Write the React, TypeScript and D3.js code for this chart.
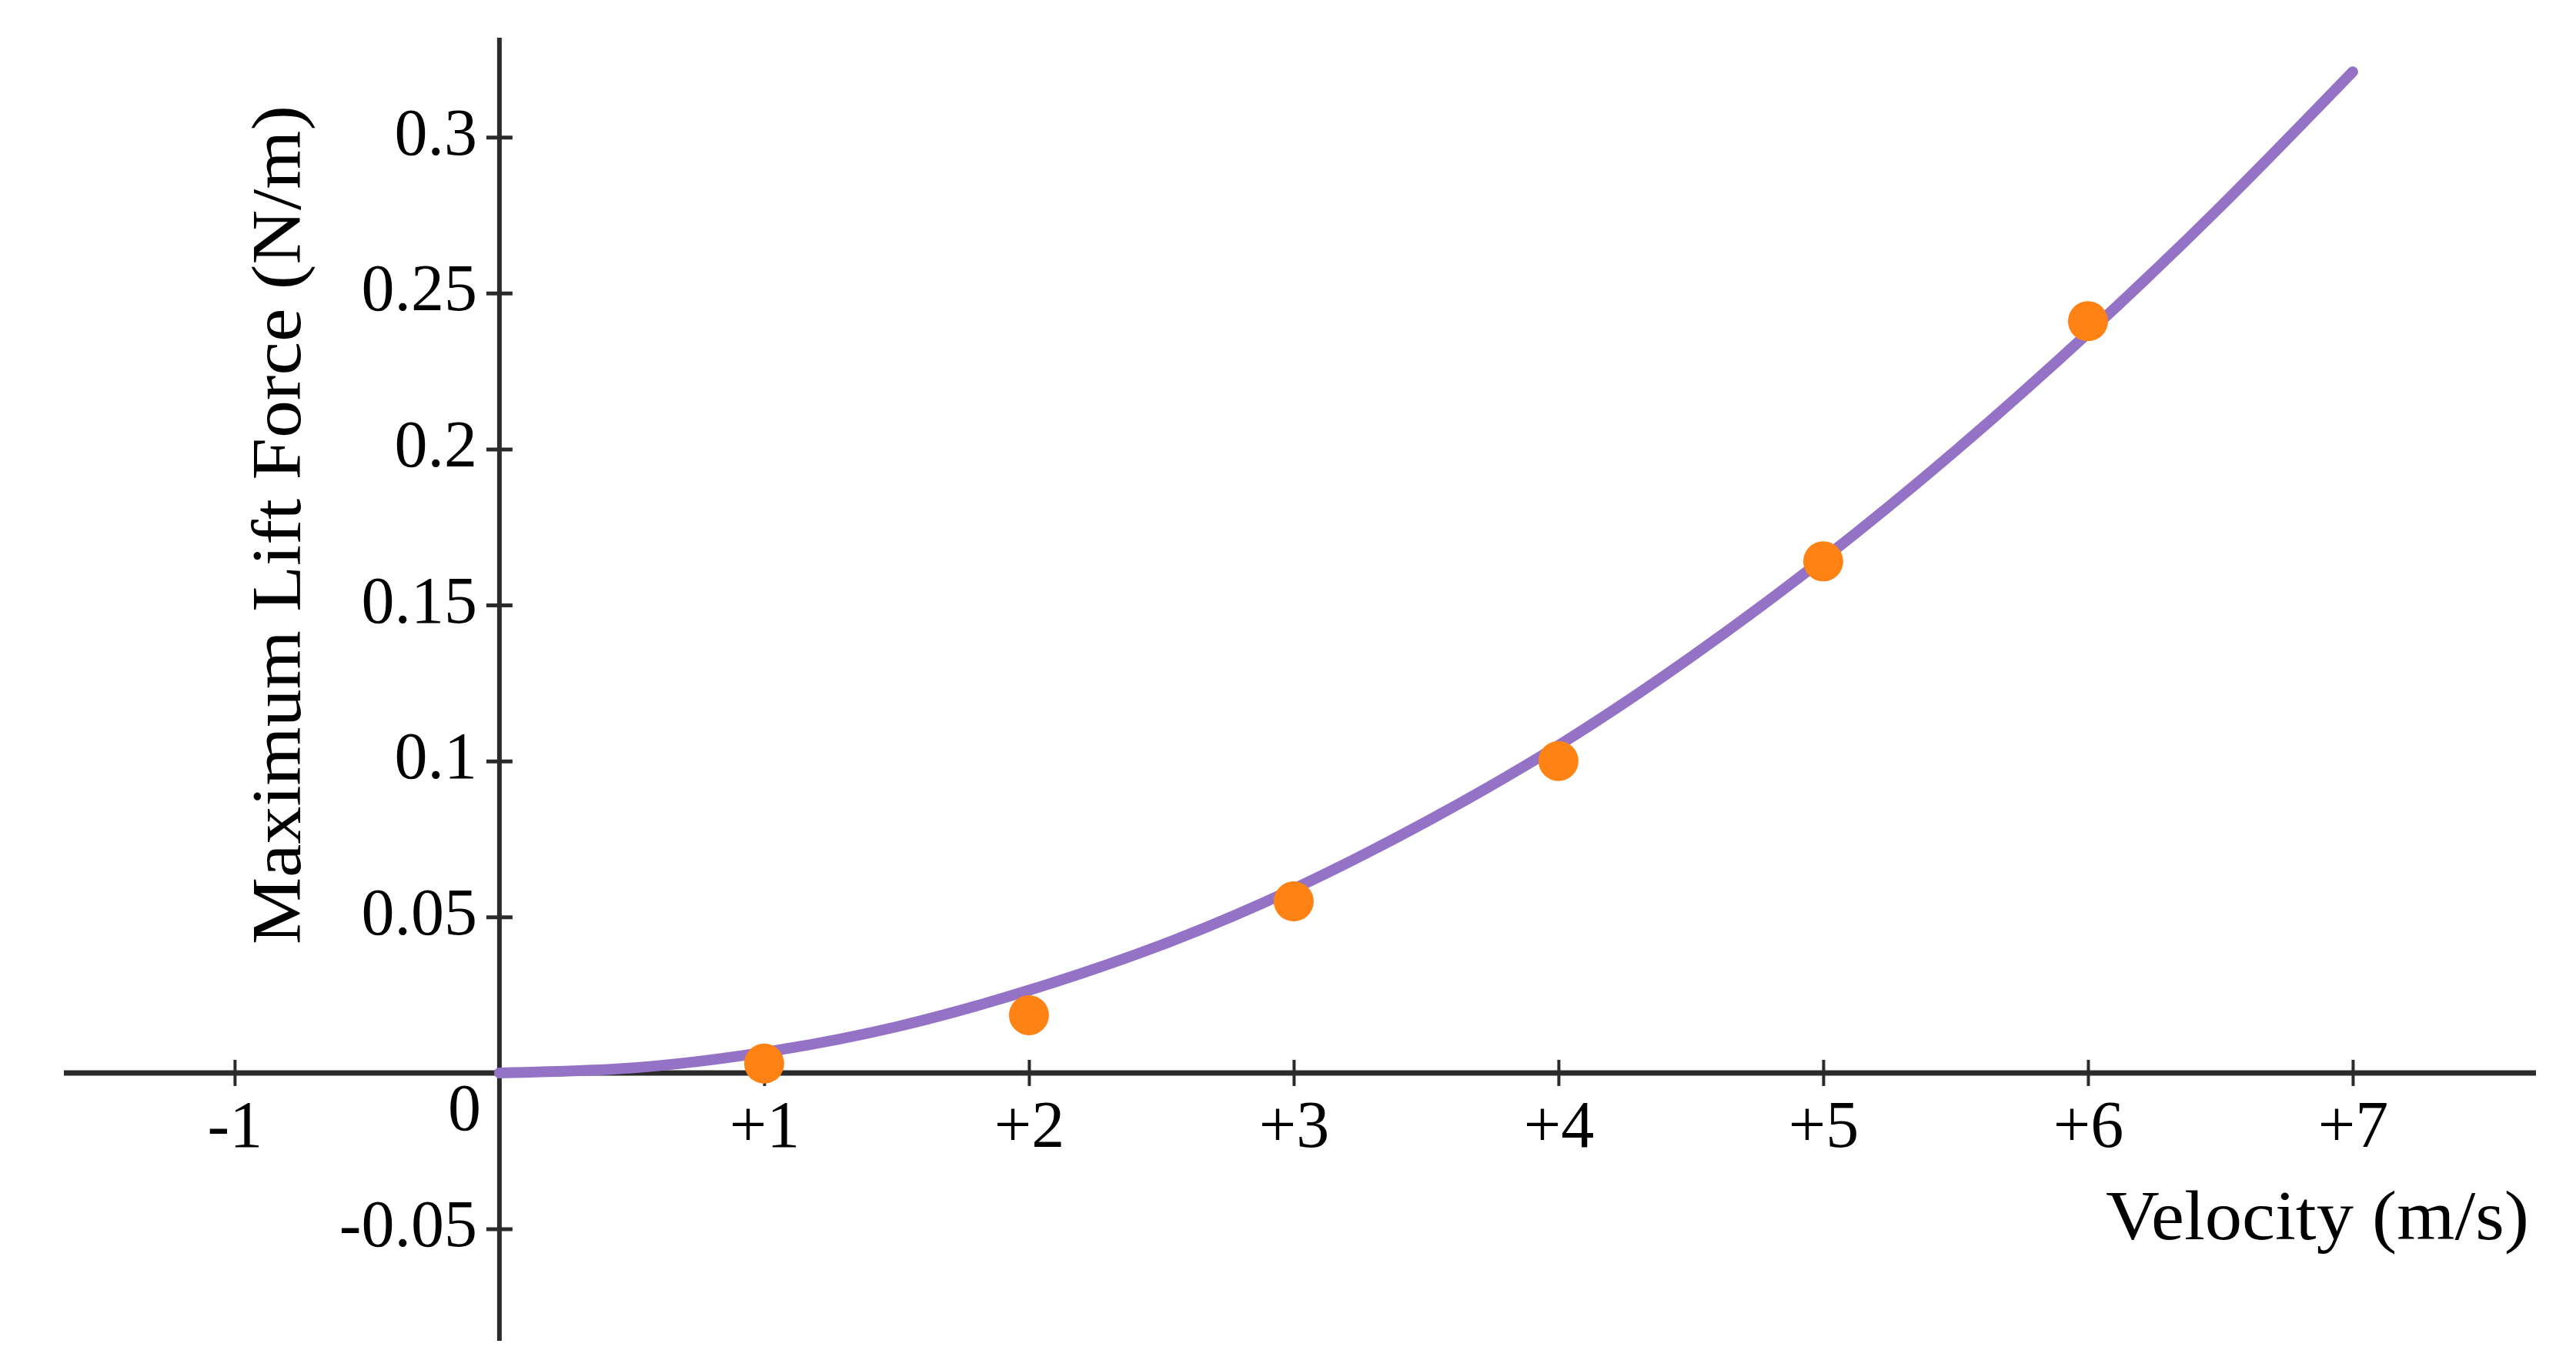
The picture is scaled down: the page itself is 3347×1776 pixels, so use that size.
import { useEffect, useRef } from "react";
import * as d3 from "d3";

// tick values and labels
const velocityTicks = [-1, 1, 2, 3, 4, 5, 6, 7];
const forceTicks = [-0.05, 0.05, 0.1, 0.15, 0.2, 0.25, 0.3];
const forceTickLabels = ["-0.05", "0.05", "0.1", "0.15", "0.2", "0.25", "0.3"];

// measured points (orange)
const measuredVelocity = [1, 2, 3, 4, 5, 6];
const measuredForce = [0.003, 0.0185, 0.055, 0.1, 0.164, 0.241];

// fitted curve (purple)
const fitVelocity = [0, 0.5, 1, 1.5, 2, 2.5, 3, 3.5, 4, 4.5, 5, 5.5, 6, 6.5, 7];
const fitForce = [0, 0.0016, 0.0066, 0.0148, 0.0265, 0.041, 0.059, 0.0805, 0.105, 0.1333, 0.1648, 0.1995, 0.2372, 0.2777, 0.321];

const W = 3347;
const H = 1776;
const FONT = "'Liberation Serif', 'Times New Roman', serif";

const App = () => {
    const ref = useRef<SVGSVGElement>(null);

    useEffect(() => {
        if (!ref.current) return;
        const svg = d3.select(ref.current);
        svg.selectAll("*").remove();

        const x = d3.scaleLinear().domain([-1.645, 7.692]).range([83, 3295]);
        const y = d3.scaleLinear().domain([-0.0859, 0.3319]).range([1742, 49]);

        const axisColor = "#2b2b2b";

        // x axis line
        svg.append("line")
            .attr("x1", x(-1.645)).attr("x2", x(7.692))
            .attr("y1", y(0)).attr("y2", y(0))
            .attr("stroke", axisColor).attr("stroke-width", 7);

        // y axis line
        svg.append("line")
            .attr("x1", x(0)).attr("x2", x(0))
            .attr("y1", y(-0.0859)).attr("y2", y(0.3319))
            .attr("stroke", axisColor).attr("stroke-width", 6);

        // x axis ticks
        const gx = svg.append("g")
            .attr("transform", `translate(0,${y(0)})`)
            .call(d3.axisBottom(x)
                .tickValues(velocityTicks)
                .tickFormat(d => (+d > 0 ? `+${d}` : `${d}`)));
        gx.select(".domain").remove();
        gx.attr("font-family", FONT).attr("font-size", 86);
        gx.selectAll(".tick line")
            .attr("y1", -17).attr("y2", 17)
            .attr("stroke", axisColor).attr("stroke-width", 4);
        gx.selectAll(".tick text")
            .attr("y", 96).attr("dy", null)
            .attr("fill", "#000");

        // y axis ticks
        const gy = svg.append("g")
            .attr("transform", `translate(${x(0)},0)`)
            .call(d3.axisLeft(y)
                .tickValues(forceTicks)
                .tickFormat((d, i) => forceTickLabels[i]));
        gy.select(".domain").remove();
        gy.attr("font-family", FONT).attr("font-size", 86);
        gy.selectAll(".tick line")
            .attr("x1", -17).attr("x2", 17)
            .attr("stroke", axisColor).attr("stroke-width", 5);
        gy.selectAll(".tick text")
            .attr("x", -29).attr("dy", 22)
            .attr("fill", "#000");

        // origin label
        svg.append("text")
            .attr("x", x(0) - 24).attr("y", y(0) + 74)
            .attr("text-anchor", "end")
            .attr("font-family", FONT).attr("font-size", 86)
            .text("0");

        // fitted curve
        const fit = fitVelocity.map((v, i) => [v, fitForce[i]] as [number, number]);
        const line = d3.line<[number, number]>()
            .x(d => x(d[0]))
            .y(d => y(d[1]))
            .curve(d3.curveNatural);
        svg.append("path")
            .datum(fit)
            .attr("d", line)
            .attr("fill", "none")
            .attr("stroke", "#9473c7")
            .attr("stroke-width", 14)
            .attr("stroke-linecap", "round");

        // measured points
        svg.append("g")
            .selectAll("circle")
            .data(measuredVelocity)
            .enter().append("circle")
            .attr("cx", d => x(d))
            .attr("cy", (d, i) => y(measuredForce[i]))
            .attr("r", 26)
            .attr("fill", "#ff8214");

        // x axis title
        svg.append("text")
            .attr("x", 3286).attr("y", 1610)
            .attr("text-anchor", "end")
            .attr("font-family", FONT).attr("font-size", 90)
            .attr("textLength", 550).attr("lengthAdjust", "spacingAndGlyphs")
            .text("Velocity (m/s)");

        // y axis title
        svg.append("text")
            .attr("transform", "rotate(-90)")
            .attr("x", -682).attr("y", 390)
            .attr("text-anchor", "middle")
            .attr("font-family", FONT).attr("font-size", 90)
            .attr("textLength", 1090).attr("lengthAdjust", "spacingAndGlyphs")
            .text("Maximum Lift Force (N/m)");
    }, []);

    return (
        <svg
            ref={ref}
            width={W}
            height={H}
            style={{ position: "absolute", left: 0, top: 0, background: "#fff" }}
        />
    );
};

export default App;
